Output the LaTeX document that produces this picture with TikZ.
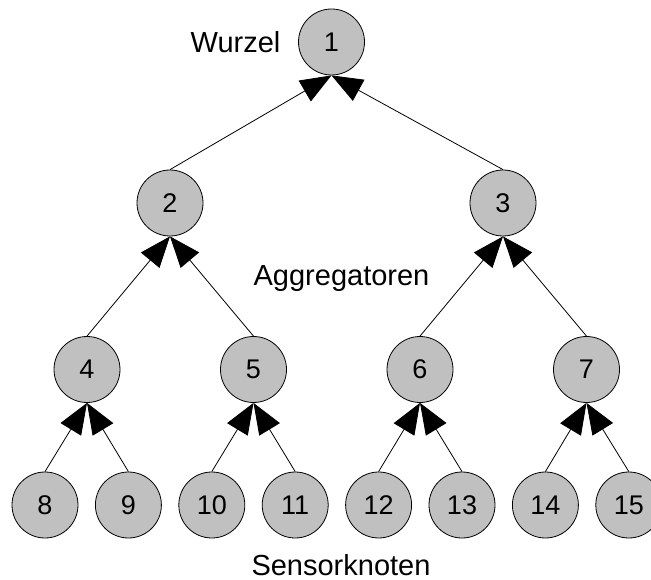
\documentclass[tikz,border=0pt]{standalone}
\usepackage{fontspec}
\setmainfont{Liberation Sans}
\usetikzlibrary{arrows.meta}
\definecolor{nodegray}{HTML}{C0C0C0}
\begin{document}
\begin{tikzpicture}[x=1pt,y=-1pt,
  tn/.style={circle,draw=black,line width=0.8pt,fill=nodegray,minimum size=66pt,inner sep=0pt,font=\fontsize{27}{30}\selectfont},
  lbl/.style={anchor=base,inner sep=0pt,font=\fontsize{29}{32}\selectfont},
  edge/.style={line width=0.8pt,-{Triangle[length=31pt,width=24pt]}}]
\useasboundingbox (0,0) rectangle (651,580);
\node[tn] (n1) at (331.5,42) {1};
\node[tn] (n2) at (170,203) {2};
\node[tn] (n3) at (503,203) {3};
\node[tn] (n4) at (87,369.5) {4};
\node[tn] (n5) at (253.5,369.5) {5};
\node[tn] (n6) at (420,369.5) {6};
\node[tn] (n7) at (586.5,369.5) {7};
\node[tn] (n8) at (45,505) {8};
\node[tn] (n9) at (128.4,505) {9};
\node[tn] (n10) at (211.8,505) {10};
\node[tn] (n11) at (295.2,505) {11};
\node[tn] (n12) at (378.6,505) {12};
\node[tn] (n13) at (462,505) {13};
\node[tn] (n14) at (545.4,505) {14};
\node[tn] (n15) at (628.8,505) {15};
\node[lbl] (wurzel) at (235.5,53) {Wurzel};
\node[lbl] (aggr) at (341.5,286) {Aggregatoren};
\node[lbl] (sens) at (341,575) {Sensorknoten};
\foreach \c/\p in {n2/n1,n3/n1,n4/n2,n5/n2,n6/n3,n7/n3,n8/n4,n9/n4,n10/n5,n11/n5,n12/n6,n13/n6,n14/n7,n15/n7}
  \draw[edge] (\c.north) -- (\p.south);
\end{tikzpicture}
\end{document}
